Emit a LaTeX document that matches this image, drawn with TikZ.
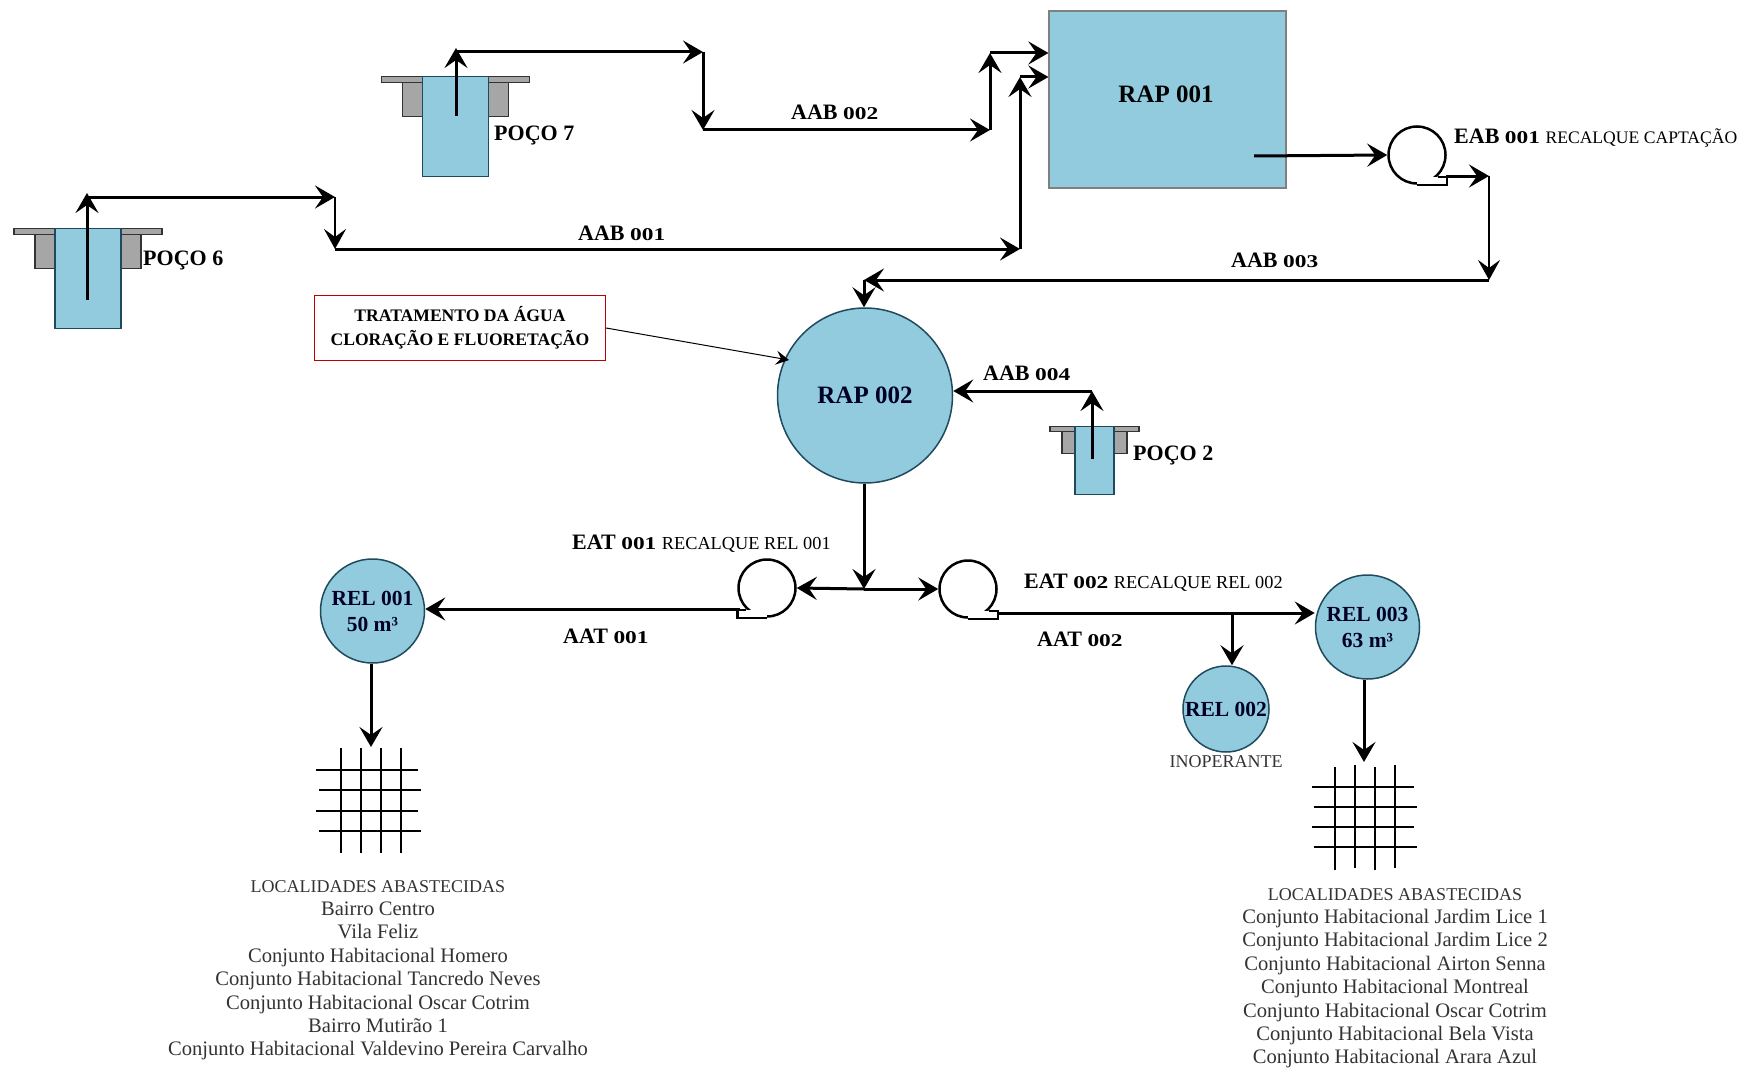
\documentclass[tikz,border=0pt]{standalone}
\usepackage{fontspec}
\setmainfont{Liberation Serif}
\usepackage{graphicx}
\usepackage{tikz}
\usetikzlibrary{arrows.meta,positioning}
\definecolor{water}{HTML}{92CBDD}
\definecolor{waterline}{HTML}{1F4A5E}
\definecolor{wellgray}{HTML}{A6A6A6}
\definecolor{listgray}{HTML}{333333}
\newcommand{\nr}[1]{\scalebox{1.3}[1]{\fontsize{18}{20}\selectfont #1}}
\newcommand{\rc}[1]{{\fontsize{18.3}{20}\selectfont\mdseries #1}}
\newcommand{\listhead}{{\fontsize{18}{23.4}\selectfont LOCALIDADES ABASTECIDAS}}
\tikzset{
    tank/.style={rectangle,draw=gray,line width=1.2pt,fill=water,inner sep=0pt,minimum width=237pt,minimum height=177pt},
    res/.style={circle,draw=waterline,line width=1.5pt,fill=water,inner sep=0pt,align=center,text=black!85!blue,font=\fontsize{21.5}{26}\selectfont\bfseries},
    pump/.style={circle,draw=black,line width=2.5pt,inner sep=0pt,minimum size=57pt},
    pumptail/.style={draw=black,line width=2.5pt},
    wellbody/.style={rectangle,draw=waterline,line width=1.2pt,fill=water,inner sep=0pt,anchor=north},
    wellplate/.style={rectangle,draw=black!80,line width=1.2pt,fill=wellgray,inner sep=0pt,anchor=north},
    pipe/.style={-{Stealth[length=20pt,width=23pt,inset=8pt]},line width=3pt},
    pipethin/.style={-{Stealth[length=20pt,width=22pt,inset=8pt]},line width=2.2pt},
    note/.style={-{Stealth[length=13pt,width=14pt,inset=5pt]},line width=1pt},
    mylabel/.style={inner sep=0pt,font=\fontsize{22}{24}\selectfont\bfseries},
    mesh/.style={draw=black,line width=1.6pt},
    places/.style={inner sep=0pt,align=center,text=listgray,font=\fontsize{20.6}{23.4}\selectfont},
}
\begin{document}
\begin{tikzpicture}[x=1pt,y=-1pt]
\useasboundingbox (0,0) rectangle (1756,1070);

% wells
\node[wellplate, minimum width=106pt, minimum height=40pt] (grayA) at (88,228) {};
\node[wellplate, minimum width=148pt, minimum height=6pt] (plateA) at (88,228) {};
\node[wellbody, minimum width=66pt, minimum height=100pt] (wellA) at (88,228) {};
\node[wellplate, minimum width=106pt, minimum height=40pt] (grayB) at (455.5,76) {};
\node[wellplate, minimum width=148pt, minimum height=6pt] (plateB) at (455.5,76) {};
\node[wellbody, minimum width=66pt, minimum height=100pt] (wellB) at (455.5,76) {};
\node[wellplate, minimum width=65pt, minimum height=27pt] (grayC) at (1094.5,426) {};
\node[wellplate, minimum width=89pt, minimum height=5pt] (plateC) at (1094.5,426) {};
\node[wellbody, minimum width=39pt, minimum height=68pt] (wellC) at (1094.5,426) {};

% reservoirs
\node[tank] (rapA) at (1167.5,99.5) {};
\node[mylabel, font=\fontsize{25}{26}\selectfont\bfseries] at (1166,94) {RAP 001};
\node[res, minimum size=175pt, font=\fontsize{25}{26}\selectfont\bfseries] (rapB) at (865,395.5) {RAP 002};
\node[res, minimum size=104pt] (relA) at (372.5,611) {REL 001\\50 m³};
\node[res, minimum size=86pt] (relB) at (1226,709) {REL 002};
\node[res, minimum size=104pt] (relC) at (1367.5,627) {REL 003\\63 m³};

% pumps
\node[pump] (pumpA) at (1417,155) {};
\node[pump] (pumpB) at (767,588) {};
\node[pump] (pumpC) at (968,589) {};
\fill[white] (pumpA.south) rectangle ([yshift=8pt]pumpA.south -| pumpA.east);
\fill[white] (pumpB.south) rectangle ([yshift=8pt]pumpB.south -| pumpB.west);
\fill[white] (pumpC.south) rectangle ([yshift=8pt]pumpC.south -| pumpC.east);
\draw[pumptail] (pumpA.south) -- (pumpA.south -| pumpA.east) -- ++(0,-8) -- ++(-9,0);
\draw[pumptail] (pumpB.south) -- (pumpB.south -| pumpB.west) -- ++(0,-8) -- ++(9,0);
\draw[pumptail] (pumpC.south) -- (pumpC.south -| pumpC.east) -- ++(0,-8) -- ++(-9,0);

% treatment box
\node[rectangle, draw=red!75!black, line width=1.2pt, minimum width=291pt, minimum height=65pt, inner sep=0pt, align=center, font=\fontsize{17.6}{24}\selectfont\bfseries] (treat) at (460,328) {TRATAMENTO DA ÁGUA\\CLORAÇÃO E FLUORETAÇÃO};

% pipe corners
\coordinate (a1) at (87,300);
\coordinate (a2) at (87,197);
\coordinate (a3) at (335,197);
\coordinate (a4) at (335,249);
\coordinate (a5) at (1020,249);
\coordinate (a6) at (1020,77);
\coordinate (b1) at (456,116);
\coordinate (b2) at (456,52);
\coordinate (b3) at (703,52);
\coordinate (b4) at (703,130);
\coordinate (b5) at (990,130);
\coordinate (b6) at (990,53);
\coordinate (c1) at (1254,156);
\coordinate (c2) at (1446,176);
\coordinate (c3) at (1489,176);
\coordinate (c4) at (1489,280);
\coordinate (c5) at (864,280);
\coordinate (d1) at (1092,459);
\coordinate (d2) at (1092,391);
\coordinate (e1) at (864,589);
\coordinate (f1) at (740,609);
\coordinate (g1) at (997,613);
\coordinate (g2) at (1232,613);
\coordinate (h1) at (371,747);
\coordinate (h2) at (1364,762);

% well 6
\draw[pipe, shorten >=-4pt] (a1) -- (a2);
\draw[pipe] (a2) -- (a3);
\draw[pipethin] (a3) -- (a4);
\draw[pipe] (a4) -- (a5);
\draw[pipe] (a5) -- (a6);
\draw[pipe] (a6) -- (a6 -| rapA.west);
% well 7
\draw[pipe, shorten >=-4pt] (b1) -- (b2);
\draw[pipe] (b2) -- (b3);
\draw[pipe] (b3) -- (b4);
\draw[pipe] (b4) -- (b5);
\draw[pipe] (b5) -- (b6);
\draw[pipe] (b6) -- (b6 -| rapA.west);
% raw water lift
\draw[pipe] (c1) -- (pumpA.west);
\draw[pipe] (c2) -- (c3);
\draw[pipethin] (c3) -- (c4);
\draw[pipe] (c4) -- (c5);
\draw[pipe] (c5) -- (c5 |- rapB.north);
% well 2
\draw[pipe] (d1) -- (d2);
\draw[pipe] (d2) -- (d2 -| rapB.east);
% treated water
\draw[pipe] (e1 |- rapB.south) -- (e1);
\draw[pipe] (e1) -- (pumpB.east);
\draw[pipe] (e1) -- (pumpC.west);
\draw[pipe] (f1) -- (f1 -| relA.east);
\draw[pipe] (g1) -- (g1 -| relC.west);
\draw[pipe] (g2) -- (g2 |- relB.north);
\draw[pipe] (h1 |- relA.south) -- (h1);
\draw[pipe] (h2 |- relC.south) -- (h2);
\draw[note] (treat.east) -- (789,360);

% distribution meshes
\draw[mesh] (341,748) -- (341,853) (361,748) -- (361,853) (381,748) -- (381,853) (401,748) -- (401,853);
\draw[mesh] (316,770) -- (418,770) (319,790) -- (421,790) (316,811) -- (418,811) (319,831) -- (421,831);
\draw[mesh] (1335,767) -- (1335,870) (1355,765) -- (1355,868) (1375,767) -- (1375,870) (1395,765) -- (1395,868);
\draw[mesh] (1312,787) -- (1414,787) (1314,807) -- (1417,807) (1312,827) -- (1414,827) (1314,847) -- (1417,847);

% labels
\node[mylabel, anchor=west] at (143,260) {POÇO 6};
\node[mylabel, anchor=west] at (494,135) {POÇO 7};
\node[mylabel, anchor=west] at (1133,455) {POÇO 2};
\node[mylabel, anchor=west] at (791,112) {AAB \nr{002}};
\node[mylabel, anchor=west] at (578,233) {AAB \nr{001}};
\node[mylabel, anchor=west] at (1231,260) {AAB \nr{003}};
\node[mylabel, anchor=west] at (983,373) {AAB \nr{004}};
\node[mylabel, anchor=west] at (1454,138) {EAB \nr{001} {\fontsize{17.6}{20}\selectfont\mdseries RECALQUE CAPTAÇÃO}};
\node[mylabel, anchor=west] at (572,544) {EAT \nr{001} \rc{RECALQUE REL 001}};
\node[mylabel, anchor=west] at (1024,583) {EAT \nr{002} \rc{RECALQUE REL 002}};
\node[mylabel, anchor=west] at (563,636) {AAT \nr{001}};
\node[mylabel, anchor=west] at (1037,639) {AAT \nr{002}};
\node[places, below=3pt of relB, font=\fontsize{18}{20}\selectfont] (inop) {INOPERANTE};

% supplied areas
\node[places, anchor=north] (areasA) at (378,880) {\listhead\\Bairro Centro\\Vila Feliz\\Conjunto Habitacional Homero\\Conjunto Habitacional Tancredo Neves\\Conjunto Habitacional Oscar Cotrim\\Bairro Mutirão 1\\Conjunto Habitacional Valdevino Pereira Carvalho};
\node[places, anchor=north] (areasB) at (1395,888) {\listhead\\Conjunto Habitacional Jardim Lice 1\\Conjunto Habitacional Jardim Lice 2\\Conjunto Habitacional Airton Senna\\Conjunto Habitacional Montreal\\Conjunto Habitacional Oscar Cotrim\\Conjunto Habitacional Bela Vista\\Conjunto Habitacional Arara Azul};
\end{tikzpicture}
\end{document}
